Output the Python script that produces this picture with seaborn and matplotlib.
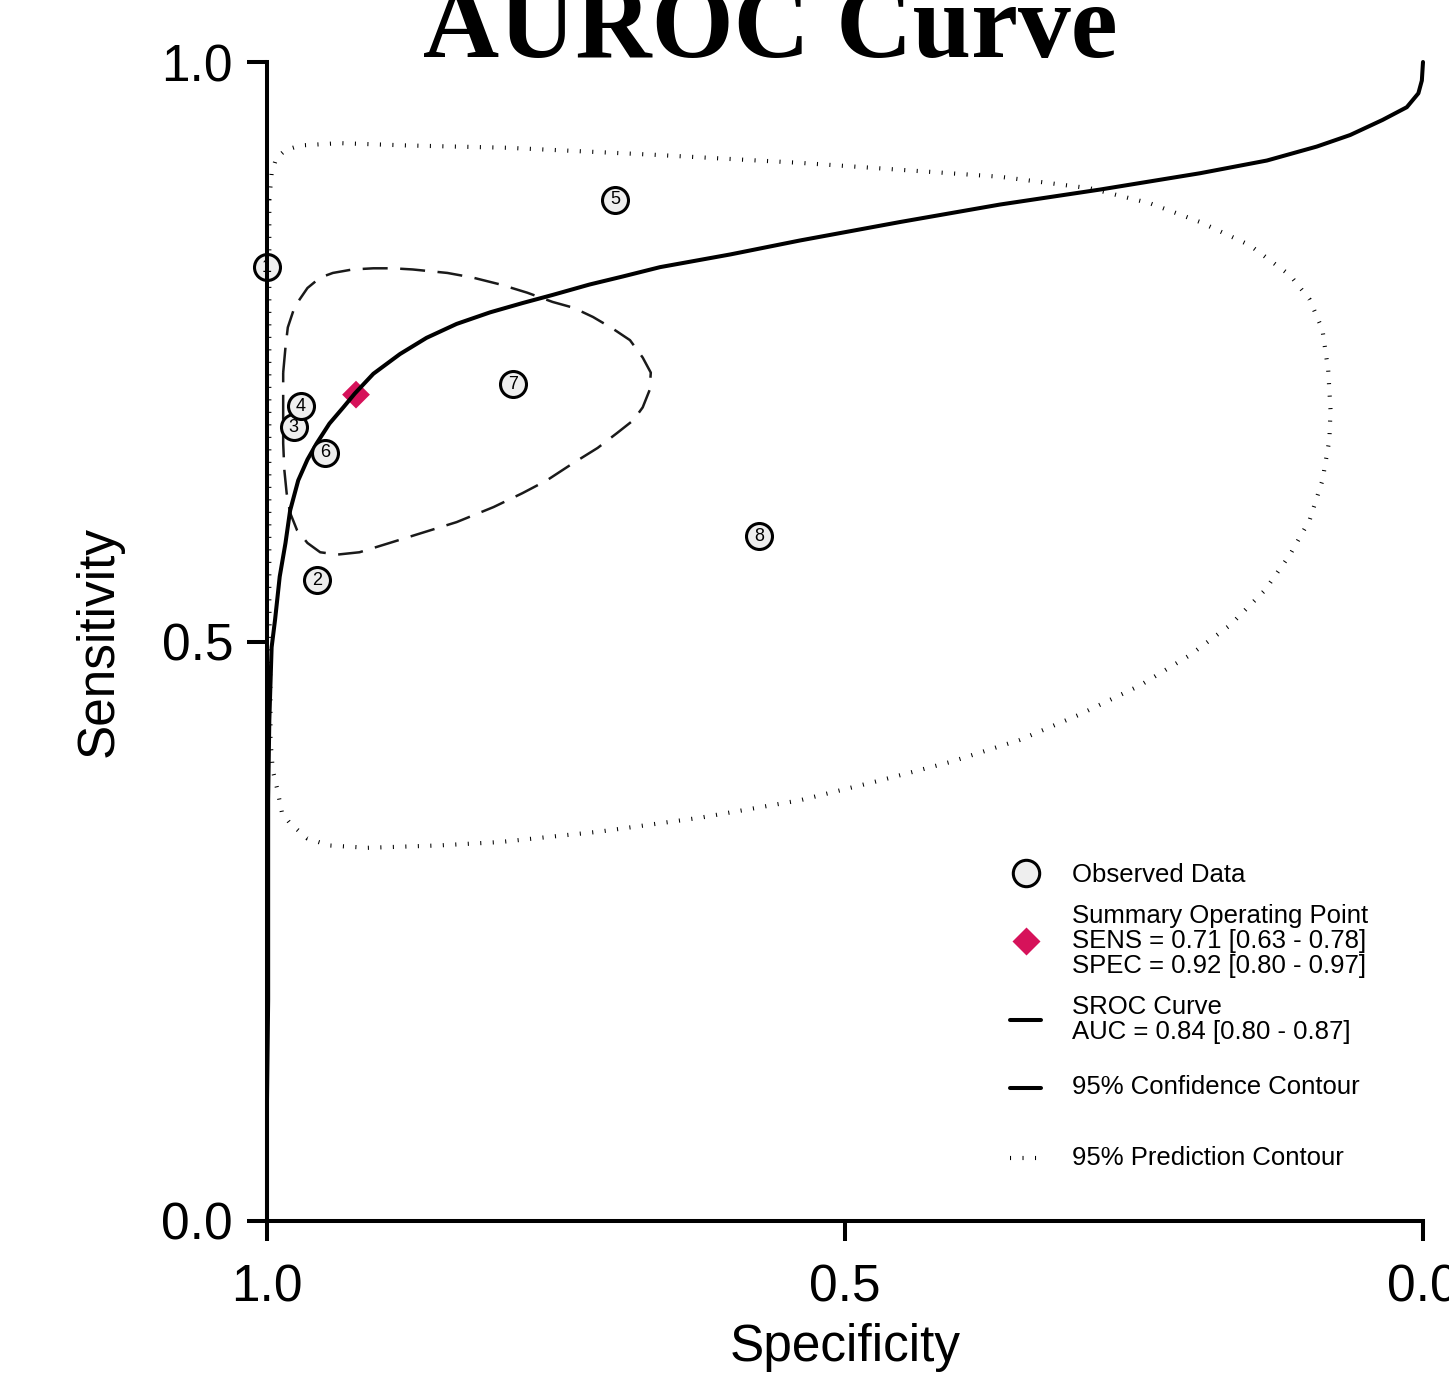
import matplotlib
matplotlib.use('Agg')
import matplotlib.pyplot as plt
import seaborn as sns
from matplotlib.lines import Line2D

# observed studies (specificity, sensitivity)
study_id = [1, 2, 3, 4, 5, 6, 7, 8]
study_spec = [1.000, 0.957, 0.977, 0.971, 0.699, 0.950, 0.787, 0.574]
study_sens = [0.823, 0.553, 0.685, 0.703, 0.881, 0.663, 0.722, 0.591]

# summary operating point
summary_spec = [0.923]
summary_sens = [0.713]

# SROC curve
sroc_spec = [1.000, 1.000, 0.999, 0.999, 0.999, 0.998, 0.996, 0.993, 0.989, 0.984,
             0.980, 0.973, 0.965, 0.957, 0.946, 0.934, 0.924, 0.908, 0.885, 0.862,
             0.836, 0.807, 0.779, 0.753, 0.721, 0.692, 0.660, 0.599, 0.539, 0.452,
             0.366, 0.279, 0.193, 0.135, 0.092, 0.063, 0.035, 0.014, 0.004, 0.001,
             0.000]
sroc_sens = [0.000, 0.104, 0.191, 0.277, 0.363, 0.432, 0.495, 0.519, 0.556, 0.585,
             0.613, 0.639, 0.657, 0.671, 0.688, 0.702, 0.714, 0.731, 0.748, 0.762,
             0.774, 0.784, 0.792, 0.799, 0.808, 0.815, 0.823, 0.834, 0.846, 0.862,
             0.877, 0.890, 0.904, 0.915, 0.927, 0.937, 0.950, 0.961, 0.973, 0.984,
             1.000]

# 95% confidence contour
conf_spec = [0.986, 0.984, 0.982, 0.976, 0.965, 0.954, 0.943, 0.926, 0.908, 0.891,
             0.874, 0.844, 0.822, 0.798, 0.775, 0.753, 0.735, 0.718, 0.701, 0.686,
             0.675, 0.668, 0.669, 0.675, 0.683, 0.697, 0.714, 0.735, 0.758, 0.779,
             0.804, 0.836, 0.865, 0.894, 0.920, 0.939, 0.954, 0.965, 0.974, 0.980,
             0.983, 0.985, 0.986, 0.986, 0.986, 0.986]
conf_sens = [0.732, 0.754, 0.771, 0.789, 0.805, 0.814, 0.818, 0.821, 0.822, 0.822,
             0.821, 0.818, 0.814, 0.808, 0.801, 0.793, 0.788, 0.780, 0.770, 0.760,
             0.745, 0.732, 0.717, 0.702, 0.691, 0.680, 0.667, 0.654, 0.639, 0.628,
             0.616, 0.603, 0.594, 0.585, 0.577, 0.575, 0.577, 0.585, 0.596, 0.611,
             0.628, 0.648, 0.671, 0.697, 0.715, 0.732]

# 95% prediction contour
pred_spec = [0.998, 0.996, 0.992, 0.984, 0.971, 0.937, 0.879, 0.792, 0.666, 0.539,
             0.452, 0.366, 0.288, 0.236, 0.193, 0.150, 0.115, 0.098, 0.087, 0.082,
             0.080, 0.081, 0.087, 0.098, 0.115, 0.137, 0.167, 0.202, 0.245, 0.297,
             0.349, 0.409, 0.470, 0.539, 0.625, 0.712, 0.798, 0.852, 0.913, 0.946,
             0.965, 0.980, 0.987, 0.991, 0.995, 0.997, 0.997, 0.998, 0.998, 0.998]
pred_sens = [0.881, 0.904, 0.917, 0.924, 0.928, 0.930, 0.928, 0.926, 0.920, 0.913,
             0.907, 0.901, 0.891, 0.878, 0.862, 0.842, 0.816, 0.795, 0.769, 0.734,
             0.700, 0.674, 0.639, 0.605, 0.575, 0.544, 0.514, 0.488, 0.462, 0.437,
             0.415, 0.396, 0.380, 0.363, 0.348, 0.336, 0.327, 0.324, 0.322, 0.324,
             0.330, 0.343, 0.352, 0.372, 0.389, 0.415, 0.450, 0.536, 0.708, 0.881]

# blank lines around the last two labels reproduce the uneven legend row gaps
legend_labels = ['Observed Data',
                 'Summary Operating Point\nSENS = 0.71 [0.63 - 0.78]\nSPEC = 0.92 [0.80 - 0.97]',
                 'SROC Curve\nAUC = 0.84 [0.80 - 0.87]',
                 '\n95% Confidence Contour\n',
                 '\n95% Prediction Contour\n']
legend_linespacing = [1.07, 1.07, 1.07, 0.49, 0.55]

sns.set_style('ticks')
plt.rcParams['font.family'] = ['Liberation Sans', 'DejaVu Sans']
plt.rcParams.update({'text.color': 'black', 'axes.labelcolor': 'black',
                     'xtick.color': 'black', 'ytick.color': 'black',
                     'axes.edgecolor': 'black'})

fig = plt.figure(figsize=(14.49, 13.77), dpi=100)
ax = fig.add_axes([267 / 1449, 156 / 1377, 1156 / 1449, 1159 / 1377])

dotted = (0, (0.25, 2.75))
sns.lineplot(x=pred_spec, y=pred_sens, sort=False, estimator=None, color='black',
             lw=3, linestyle=dotted, dash_capstyle='butt', ax=ax, zorder=2, clip_on=False)
sns.lineplot(x=conf_spec, y=conf_sens, sort=False, estimator=None, color='#1a1a1a',
             lw=1.8, linestyle=(0, (10, 5)), ax=ax, zorder=2, clip_on=False)
sns.scatterplot(x=summary_spec, y=summary_sens, marker='D', s=200, color='#d6125a',
                edgecolor='none', ax=ax, zorder=2.2, clip_on=False)
sns.lineplot(x=sroc_spec, y=sroc_sens, sort=False, estimator=None, color='black',
             lw=2.9, ax=ax, zorder=3, clip_on=False)
sns.scatterplot(x=study_spec, y=study_sens, s=350, color='#eeeeee', edgecolor='black',
                linewidth=2.2, ax=ax, zorder=4, clip_on=False)
for sid, sx, sy in zip(study_id, study_spec, study_sens):
    ax.text(sx, sy, str(sid), ha='center', va='center', fontsize=13, zorder=5)

ax.set_xlim(1, 0)
ax.set_ylim(0, 1)
ax.set_xticks([1.0, 0.5, 0.0])
ax.set_yticks([0.0, 0.5, 1.0])
ax.set_xticklabels(['1.0', '0.5', '0.0'])
ax.set_yticklabels(['0.0', '0.5', '1.0'])
sns.despine(ax=ax)
for side in ['left', 'bottom']:
    ax.spines[side].set_linewidth(2.9)
    ax.spines[side].set_zorder(6)
ax.tick_params(axis='both', direction='out', length=14.4, width=2.9, labelsize=37)
ax.tick_params(axis='x', pad=16)
ax.tick_params(axis='y', pad=10)
ax.set_xlabel('Specificity', fontsize=37, labelpad=8)
ax.set_ylabel('Sensitivity', fontsize=37, labelpad=27)

handles = [
    Line2D([], [], marker='o', ls='none', ms=19, mfc='#eeeeee', mec='black', mew=2.2),
    Line2D([], [], marker='D', ls='none', ms=14, mfc='#d6125a', mec='none'),
    Line2D([], [], color='black', lw=2.9),
    Line2D([], [], color='black', lw=2.9),
    Line2D([], [], color='black', lw=3, ls=dotted, dash_capstyle='butt'),
]
leg = ax.legend(handles=handles, labels=legend_labels, loc='upper left',
                bbox_to_anchor=(0.643, 0.309), frameon=False, fontsize=18.5,
                borderpad=0, borderaxespad=0, handlelength=1.2, handletextpad=1.2,
                labelspacing=0.65)
for t, ls in zip(leg.get_texts(), legend_linespacing):
    t.set_linespacing(ls)

fig.text(770 / 1449, 1 - 57 / 1377, 'AUROC Curve', family='Liberation Serif',
         weight='bold', fontsize=76, ha='center', va='baseline')

fig.savefig('out.png', dpi=100, facecolor='white')
